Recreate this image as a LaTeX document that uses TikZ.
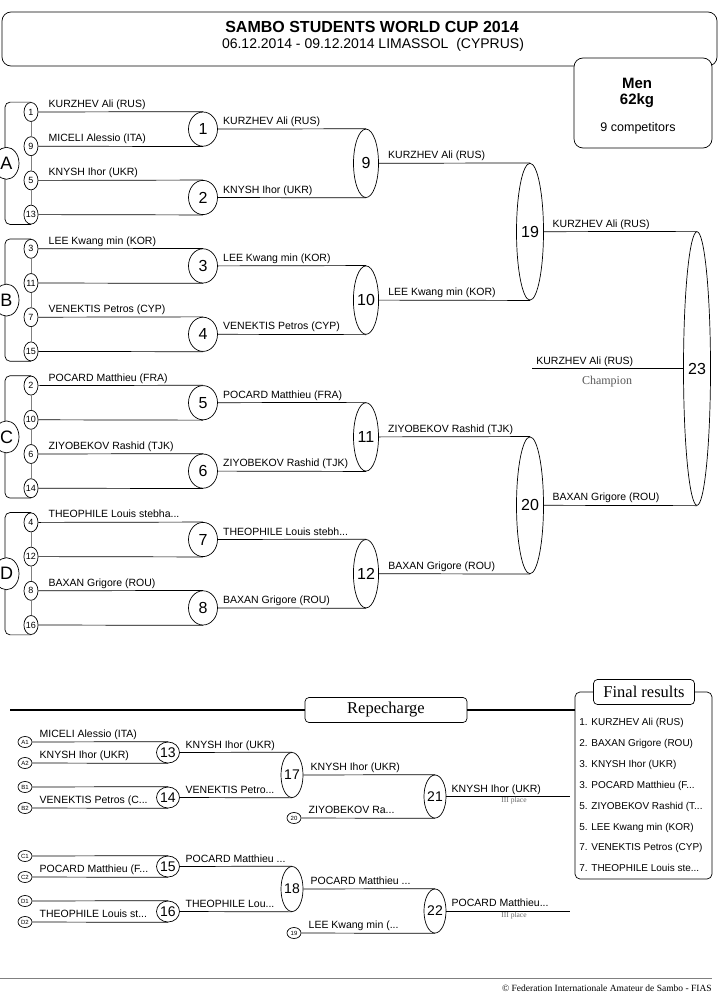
\documentclass[tikz,border=0pt]{standalone}
\usepackage{fontspec}
\setmainfont{Liberation Sans}
\newfontfamily\tms{Liberation Serif}
\usetikzlibrary{shapes.geometric}

\newcommand{\nm}{\fontsize{10.5}{12}\selectfont}
\newcommand{\trc}{...}

\begin{document}
\begin{tikzpicture}[x=1pt,y=-1pt,line width=0.7pt,
every node/.style={inner sep=0pt},
seedc/.style={draw,ellipse,fill=white,minimum width=14pt,minimum height=19pt,font=\fontsize{9}{9}\selectfont},
pool/.style={draw,ellipse,fill=white,minimum width=25pt,minimum height=32pt,font=\fontsize{18}{18}\selectfont},
mat/.style={draw,ellipse,font=\fontsize{16}{16}\selectfont},
rseed/.style={draw,ellipse,minimum width=14pt,minimum height=11pt,font=\fontsize{6}{6}\selectfont},
rmat/.style={draw,ellipse,font=\fontsize{14}{14}\selectfont},
lbl/.style={anchor=base west,font=\nm},
place/.style={font=\tms\fontsize{7.5}{7.5}\selectfont,text=black!60}
]
\useasboundingbox (0,0) rectangle (724,1006);

% header
\draw[rounded corners=9pt] (2,12) rectangle (717,66);
\node[font=\bfseries\fontsize{16}{16}\selectfont] (title) at (372,27) {SAMBO STUDENTS WORLD CUP 2014};
\node[font=\fontsize{14}{14}\selectfont] (date) at (373,45) {06.12.2014 - 09.12.2014 LIMASSOL\ \ (CYPRUS)};
\draw[rounded corners=9pt,fill=white] (574,58) rectangle (712,148);
\node[font=\bfseries\fontsize{15}{15}\selectfont] (men) at (637,83) {Men};
\node[font=\bfseries\fontsize{15}{15}\selectfont] (kg) at (637,101) {62kg};
\node[font=\fontsize{12.5}{12.5}\selectfont] (comp) at (638,128) {9 competitors};

% pools
\foreach \n [count=\k from 0] in {1,9,5,13,3,11,7,15,2,10,6,14,4,12,8,16}
    \node[seedc] (s\k) at (31,{112+34.2*\k}) {\n};

\foreach \p/\l in {0/A,1/B,2/C,3/D}{
    \pgfmathtruncatemacro\a{4*\p}
    \pgfmathtruncatemacro\b{4*\p+3}
    \draw[rounded corners=5pt] (s\a.north) -- (5,0 |- s\a.north) -- (5,0 |- s\b.south) -- (s\b.south);
    \node[pool] (p\l) at (6.5,{112+34.2*(4*\p+1.5)}) {\l};
}

\foreach \a/\b in {0/1,1/2,2/3,4/5,5/6,6/7,8/9,9/10,10/11,12/13,13/14,14/15}
    \draw[gray,line width=0.5pt] (s\a) -- (s\b);

% main bracket
\foreach \n [count=\j from 0] in {1,2,3,4,5,6,7,8}
    \node[mat,minimum width=29pt,minimum height=34.2pt] (m\n) at (203,{112+34.2*(2*\j+0.5)}) {\n};
\foreach \n [count=\j from 0] in {9,10,11,12}
    \node[mat,minimum width=25pt,minimum height=68.4pt] (m\n) at (366,{112+34.2*(4*\j+1.5)}) {\n};
\node[mat,minimum width=27pt,minimum height=136.8pt] (m19) at (530,{112+34.2*3.5}) {19};
\node[mat,minimum width=27pt,minimum height=136.8pt] (m20) at (530,{112+34.2*11.5}) {20};
\node[mat,minimum width=27pt,minimum height=273.6pt] (m23) at (697,{112+34.2*7.5}) {23};

\foreach \a/\b/\c in {0/1/north,1/1/south,2/2/north,3/2/south,4/3/north,5/3/south,6/4/north,7/4/south,
                      8/5/north,9/5/south,10/6/north,11/6/south,12/7/north,13/7/south,14/8/north,15/8/south}
    \draw (s\a.east) -- (m\b.\c);
\foreach \a/\b/\c in {1/9/north,2/9/south,3/10/north,4/10/south,5/11/north,6/11/south,7/12/north,8/12/south,
                      9/19/north,10/19/south,11/20/north,12/20/south,19/23/north,20/23/south}
    \draw (m\a.east) -- (m\b.\c);

\foreach \k/\t in {0/KURZHEV Ali (RUS),1/MICELI Alessio (ITA),2/KNYSH Ihor (UKR),4/LEE Kwang min (KOR),
                   6/VENEKTIS Petros (CYP),8/POCARD Matthieu (FRA),10/ZIYOBEKOV Rashid (TJK),
                   12/THEOPHILE Louis stebha\trc,14/BAXAN Grigore (ROU)}
    \path (s\k.east) ++(10,-4.5) node[lbl] {\t};
\foreach \n/\t in {1/KURZHEV Ali (RUS),2/KNYSH Ihor (UKR),3/LEE Kwang min (KOR),4/VENEKTIS Petros (CYP),
                   5/POCARD Matthieu (FRA),6/ZIYOBEKOV Rashid (TJK),7/THEOPHILE Louis stebh\trc,8/BAXAN Grigore (ROU)}
    \path (m\n.east) ++(5,-4.5) node[lbl] {\t};
\foreach \n/\t in {9/KURZHEV Ali (RUS),10/LEE Kwang min (KOR),11/ZIYOBEKOV Rashid (TJK),12/BAXAN Grigore (ROU)}
    \path (m\n.east) ++(9,-4.5) node[lbl] {\t};
\foreach \n/\t in {19/KURZHEV Ali (RUS),20/BAXAN Grigore (ROU)}
    \path (m\n.east) ++(8.5,-4.5) node[lbl] {\t};

\coordinate (chp) at (532,368.5);
\draw (chp) -- (m23.west);
\node[lbl] (chn) at (536,364) {KURZHEV Ali (RUS)};
\node[font=\tms\fontsize{12}{12}\selectfont,text=black!65] (chm) at (607,382) {Champion};

% repecharge
\node[draw,rounded corners=4pt,minimum width=162pt,minimum height=25pt,font=\tms\fontsize{16.5}{16.5}\selectfont] (rep) at (386,710) {Repecharge};
\draw[rounded corners=5pt] (575,692) rectangle (712,879);
\node[draw,fill=white,rounded corners=4pt,minimum width=101pt,minimum height=25pt,font=\tms\fontsize{16.5}{16.5}\selectfont] (fin) at (644,692) {Final results};
\coordinate (rl) at (10,710);
\coordinate (rr) at (575,710);
\draw[line width=1.3pt] (rl) -- (rep.west) (rep.east) -- (rr);

\foreach \t [count=\i from 0] in {1. KURZHEV Ali (RUS),2. BAXAN Grigore (ROU),3. KNYSH Ihor (UKR),3. POCARD Matthieu (F\trc,
                                  5. ZIYOBEKOV Rashid (T\trc,5. LEE Kwang min (KOR),7. VENEKTIS Petros (CYP),7. THEOPHILE Louis ste\trc}
    \node[anchor=base west,font=\fontsize{10}{12}\selectfont] (fr\i) at (579,{725.5+20.9*\i}) {\t};

\foreach \n/\y in {A1/742,A2/763,B1/787,B2/808,C1/856,C2/877,D1/901,D2/922}
    \node[rseed] (r\n) at (25,\y) {\n};
\foreach \n/\y in {13/752.5,14/797.5,15/866.5,16/911.5}
    \node[rmat,minimum width=23pt,minimum height=21pt] (r\n) at (168,\y) {\n};
\node[rmat,minimum width=19pt,minimum height=45pt] (r17) at (292,775) {17};
\node[rmat,minimum width=19pt,minimum height=45pt] (r18) at (292,889) {18};
\node[rseed] (r20) at (294,818) {20};
\node[rseed] (r19) at (294,933) {19};
\node[rmat,minimum width=21pt,minimum height=43pt] (r21) at (435,796.5) {21};
\node[rmat,minimum width=21pt,minimum height=44pt] (r22) at (435,911) {22};

\foreach \a/\b/\c in {A1/13/north,A2/13/south,B1/14/north,B2/14/south,C1/15/north,C2/15/south,D1/16/north,D2/16/south,
                      13/17/north,14/17/south,15/18/north,16/18/south,17/21/north,20/21/south,18/22/north,19/22/south}
    \draw (r\a.east) -- (r\b.\c);
\coordinate (b21) at (570,796.5);
\coordinate (b22) at (570,911);
\draw (r21.east) -- (b21);
\draw (r22.east) -- (b22);

\foreach \n/\t in {A1/MICELI Alessio (ITA),A2/KNYSH Ihor (UKR),B2/VENEKTIS Petros (C\trc,C2/POCARD Matthieu (F\trc,D2/THEOPHILE Louis st\trc}
    \path (r\n.east) ++(7,-4.5) node[lbl] {\t};
\foreach \n/\t in {13/KNYSH Ihor (UKR),14/VENEKTIS Petro\trc,15/POCARD Matthieu \trc,16/THEOPHILE Lou\trc}
    \path (r\n.east) ++(5.5,-4.5) node[lbl] {\t};
\foreach \n/\t in {17/KNYSH Ihor (UKR),20/ZIYOBEKOV Ra\trc,18/POCARD Matthieu \trc,19/LEE Kwang min (\trc}
    \path (r\n.east) ++(7,-4.5) node[lbl] {\t};
\foreach \n/\t in {21/KNYSH Ihor (UKR),22/POCARD Matthieu\trc}
    \path (r\n.east) ++(5,-4.5) node[lbl] {\t};
\node[place] (pl3a) at (514,801) {III place};
\node[place] (pl3b) at (514,916) {III place};

% footer
\coordinate (ft1) at (0,978);
\coordinate (ft2) at (712,978);
\draw[gray] (ft1) -- (ft2);
\node[anchor=base east,font=\tms\fontsize{9.5}{10}\selectfont] (copy) at (712,991) {© Federation Internationale Amateur de Sambo - FIAS};
\end{tikzpicture}
\end{document}
